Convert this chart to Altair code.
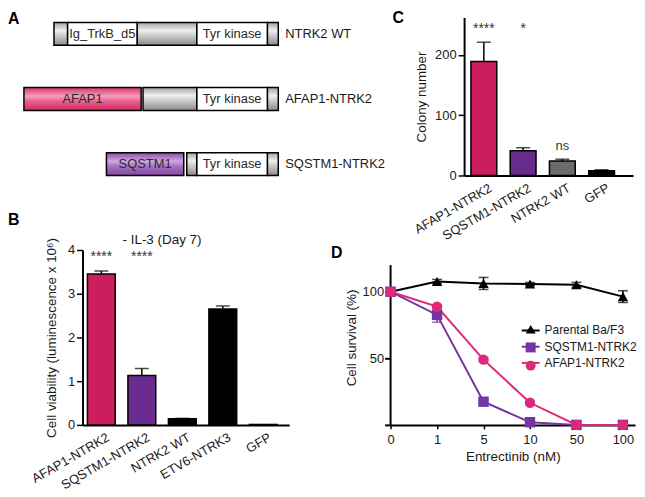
import altair as alt
import pandas as pd

FONT = "Liberation Sans"
INK = "#1a1a1a"

# ---------------- data ----------------
panel_letters = ["A", "B", "C", "D"]

# Panel A: domain architecture (positions aligned to NTRK2 WT residue numbering)
a_constructs = ["NTRK2 WT", "AFAP1-NTRK2", "SQSTM1-NTRK2"]
a_seg_construct = ["NTRK2 WT"] * 5 + ["AFAP1-NTRK2"] * 4 + ["SQSTM1-NTRK2"] * 4
a_seg_start = [1, 51, 305, 524, 782, -109, 327, 524, 782, 193, 487, 524, 782]
a_seg_end = [51, 305, 524, 782, 822, 320, 524, 782, 822, 476, 524, 782, 822]
a_seg_kind = ["linker", "domain", "linker", "domain", "linker",
              "AFAP1", "linker", "domain", "linker",
              "SQSTM1", "linker", "domain", "linker"]
a_seg_label = ["", "Ig_TrkB_d5", "", "Tyr kinase", "",
               "AFAP1", "", "Tyr kinase", "",
               "SQSTM1", "", "Tyr kinase", ""]

# Panel B
b_cats = ["AFAP1-NTRK2", "SQSTM1-NTRK2", "NTRK2 WT", "ETV6-NTRK3", "GFP"]
b_vals = [3.45, 1.13, 0.14, 2.65, 0.01]
b_err = [0.07, 0.16, 0.01, 0.07, 0.0]
b_sig = ["****", "****", "", "", ""]
b_colors = ["#cc1d5e", "#6a2b8e", "#000000", "#000000", "#000000"]

# Panel C
c_cats = ["AFAP1-NTRK2", "SQSTM1-NTRK2", "NTRK2 WT", "GFP"]
c_vals = [189, 41, 24, 8]
c_err = [32, 5, 3, 1.5]
c_sig = ["****", "*", "ns", ""]
c_colors = ["#cc1d5e", "#6a2b8e", "#6b6b6b", "#000000"]

# Panel D
d_doses = [0, 1, 5, 10, 50, 100]
d_series = ["Parental Ba/F3", "SQSTM1-NTRK2", "AFAP1-NTRK2"]
d_colors = ["#000000", "#7434a3", "#e0287a"]
d_shapes = ["triangle-up", "square", "circle"]
d_parental = [100, 107.7, 106.2, 105.7, 105.2, 96.3]
d_parental_err = [0, 1.5, 4.5, 1.2, 1.8, 4.4]
d_sqstm1 = [100, 82.6, 17.4, 2.0, 0, 0]
d_sqstm1_err = [0, 5.5, 1.5, 0.8, 0, 0]
d_afap1 = [100, 88.8, 49.0, 16.6, 0, 0]
d_afap1_err = [0, 1.5, 1.5, 1.0, 0, 0]
d_axis_top = [120]


def letter(ch, x, y):
    return alt.Chart(pd.DataFrame({"t": [ch]})).mark_text(
        align="left", baseline="top", fontSize=16, fontWeight="bold",
        font=FONT, color="black"
    ).encode(text="t:N", x=alt.value(x), y=alt.value(y))


def grad(stops):
    return {"gradient": "linear", "x1": 0, "x2": 0, "y1": 0, "y2": 1,
            "stops": [{"offset": o, "color": c} for o, c in stops]}


# ---------------- Panel A ----------------
a_df = pd.DataFrame({"construct": a_seg_construct, "start": a_seg_start,
                     "end": a_seg_end, "kind": a_seg_kind, "label": a_seg_label})
a_xscale = alt.Scale(domain=[105.5, 822], nice=False, zero=False)
a_y = alt.Y("construct:N", sort=a_constructs,
            scale=alt.Scale(paddingInner=0.649, paddingOuter=0.038, align=1), axis=None)
a_base = alt.Chart(a_df).encode(
    x=alt.X("start:Q", scale=a_xscale, axis=None), x2="end:Q", y=a_y)

gray_fill = grad([(0, "#a2a2a2"), (0.35, "#eeeeee"), (1, "#8a8a8a")])
pink_fill = grad([(0, "#d8346c"), (0.38, "#f49dbb"), (0.6, "#e9608d"), (1, "#cf2c63")])
purple_fill = grad([(0, "#8b4cad"), (0.38, "#cba8df"), (0.6, "#a572c2"), (1, "#86459f")])

a_layers = [
    a_base.transform_filter("datum.kind == 'linker'").mark_rect(
        fill=gray_fill, stroke="black", strokeWidth=1.5),
    a_base.transform_filter("datum.kind == 'domain'").mark_rect(
        fill="white", stroke="black", strokeWidth=1.5),
    a_base.transform_filter("datum.kind == 'AFAP1'").mark_rect(
        fill=pink_fill, stroke="black", strokeWidth=1.5),
    a_base.transform_filter("datum.kind == 'SQSTM1'").mark_rect(
        fill=purple_fill, stroke="black", strokeWidth=1.5),
    alt.Chart(a_df).transform_filter("datum.label != ''").transform_calculate(
        mid="(datum.start + datum.end) / 2"
    ).mark_text(fontSize=13, color="#2a2a2a", font=FONT).encode(
        x=alt.X("mid:Q", scale=a_xscale, axis=None), y=a_y, text="label:N"),
    alt.Chart(a_df).transform_aggregate(
        end="max(end)", groupby=["construct"]
    ).mark_text(align="left", dx=7, fontSize=13, color=INK, font=FONT).encode(
        x=alt.X("end:Q", scale=a_xscale, axis=None), y=a_y, text="construct:N"),
    letter(panel_letters[0], -75, -6.7),
]
panel_a = alt.layer(*a_layers).properties(width=197, height=159)


# ---------------- bar panel helper ----------------
def bar_panel(cats, vals, errs, sigs, colors, width, height, ydom, yvals, ytitle,
              pin, pout, palign, title_pad):
    df = pd.DataFrame({"cat": cats, "v": vals, "e": errs, "sig": sigs})
    df["hi"] = df["v"] + df["e"]
    x = alt.X("cat:N", sort=cats,
              scale=alt.Scale(paddingInner=pin, paddingOuter=pout, align=palign),
              axis=alt.Axis(title=None, labelAngle=-30, labelAlign="right",
                            labelBaseline="top", ticks=False, labelPadding=6,
                            labelOffset=4, domainWidth=2, labelFontSize=13))
    yscale = alt.Scale(domain=ydom, nice=False)
    yaxis = alt.Axis(values=yvals, tickSize=6, tickWidth=1.5, domainWidth=2,
                     labelPadding=2, titlePadding=title_pad, grid=False)

    def Y(field):
        return alt.Y(field, scale=yscale, axis=yaxis, title=ytitle)

    base = alt.Chart(df)
    bars = base.mark_bar(stroke="black", strokeWidth=1.5).encode(
        x=x, y=Y("v:Q"),
        color=alt.Color("cat:N", scale=alt.Scale(domain=cats, range=colors), legend=None))
    errb = base.transform_filter("datum.e > 0").mark_rule(
        color="black", strokeWidth=1.5).encode(x=x, y=Y("v:Q"), y2="hi:Q")
    caps = base.transform_filter("datum.e > 0").mark_tick(
        color="black", size=14, thickness=1.5).encode(x=x, y=Y("hi:Q"))
    return base, x, Y, [bars, errb, caps]


# ---------------- Panel B ----------------
b_base, b_x, b_Y, b_layers = bar_panel(
    b_cats, b_vals, b_err, b_sig, b_colors, 208, 176, [0, 4], [0, 1, 2, 3, 4],
    "Cell viability (luminescence x 10⁶)", 0.313, 0.209, 0.29, 9)
b_sigs = b_base.transform_filter("datum.sig != ''").mark_text(
    fontSize=14, baseline="alphabetic", color="#333333", font=FONT
).encode(x=b_x, y=alt.datum(3.75), text="sig:N")
b_title = alt.Chart(pd.DataFrame({"t": ["- IL-3 (Day 7)"]})).mark_text(
    fontSize=13.5, baseline="alphabetic", align="center", color=INK, font=FONT
).encode(text="t:N", x=alt.value(80), y=alt.value(-6))
panel_b = alt.layer(*b_layers, b_sigs, b_title, letter(panel_letters[1], -75, -38.5)
                    ).properties(width=208, height=176)

# ---------------- Panel C ----------------
c_base, c_x, c_Y, c_layers = bar_panel(
    c_cats, c_vals, c_err, c_sig, c_colors, 170, 159, [0, 262], [0, 100, 200],
    "Colony number", 0.342, 0.323, 0.27, 6)
c_top = c_base.transform_filter("datum.sig != '' && datum.sig != 'ns'").mark_text(
    fontSize=14, baseline="alphabetic", color="#333333", font=FONT
).encode(x=c_x, y=alt.datum(236), text="sig:N")
c_ns = c_base.transform_filter("datum.sig == 'ns'").transform_calculate(
    ny="datum.hi + 16").mark_text(
    fontSize=13, baseline="alphabetic", color="#333333", font=FONT
).encode(x=c_x, y=c_Y("ny:Q"), text="sig:N")
panel_c = alt.layer(*c_layers, c_top, c_ns, letter(panel_letters[2], -72, -7.9)
                    ).properties(width=170, height=159)

# ---------------- Panel D ----------------
rows = []
for s, vals, errs in zip(d_series, [d_parental, d_sqstm1, d_afap1],
                         [d_parental_err, d_sqstm1_err, d_afap1_err]):
    for dose, v, e in zip(d_doses, vals, errs):
        rows.append({"series": s, "series_pt": "pt_" + s, "dose": dose, "v": v,
                     "e": e, "lo": v - e, "hi": v + e})
d_df = pd.DataFrame(rows)
d_series_pt = ["pt_" + s for s in d_series]

d_x = alt.X("dose:O", scale=alt.Scale(type="point", padding=0.13, align=0),
            axis=alt.Axis(title="Entrectinib (nM)", labelAngle=0, tickSize=4,
                          tickWidth=1.5, domainWidth=2, labelPadding=5, titlePadding=3,
                          labelFontSize=13))
d_yscale = alt.Scale(domain=[0, 131.3], nice=False)
d_yaxis = alt.Axis(values=[0, 50, 100], labelExpr="datum.value == 0 ? '' : datum.label",
                   domain=False, tickSize=6, tickWidth=2, labelPadding=1,
                   titlePadding=4, grid=False)


def dY(field):
    return alt.Y(field, scale=d_yscale, axis=d_yaxis, title="Cell survival (%)")


d_axis_df = pd.DataFrame({"dose": [d_doses[0]], "lo": [0], "hi": d_axis_top})
d_layers = [
    alt.Chart(d_axis_df).mark_rule(color="black", strokeWidth=2).encode(
        x=d_x, y=dY("lo:Q"), y2="hi:Q")
]
for s, c in zip(d_series, d_colors):
    sub = alt.Chart(d_df).transform_filter(
        f"datum.series == '{s}' && datum.e > 0")
    d_layers.append(sub.mark_rule(color=c, strokeWidth=1.5).encode(
        x=d_x, y=dY("lo:Q"), y2="hi:Q"))
    d_layers.append(sub.mark_tick(color=c, size=10, thickness=1.5).encode(
        x=d_x, y=dY("hi:Q")))
    d_layers.append(sub.mark_tick(color=c, size=10, thickness=1.5).encode(
        x=d_x, y=dY("lo:Q")))

d_lines = alt.Chart(d_df).mark_line(strokeWidth=2).encode(
    x=d_x, y=dY("v:Q"),
    stroke=alt.Stroke("series:N", scale=alt.Scale(domain=d_series, range=d_colors),
                      legend=alt.Legend(orient="none", legendX=131, legendY=71,
                                        title=None, symbolType="stroke",
                                        symbolSize=324, symbolStrokeWidth=2,
                                        labelFontSize=12, labelFont=FONT,
                                        labelColor=INK, rowPadding=0.3, padding=0,
                                        labelOffset=4)))
pt_legend = alt.Legend(orient="none", legendX=135, legendY=73.75, title=None,
                       symbolSize=100, symbolOpacity=1, symbolStrokeWidth=0,
                       labelFontSize=12, labelExpr="''", rowPadding=6.3, padding=0,
                       labelOffset=0)
d_pts = alt.Chart(d_df).mark_point(filled=True, size=110, opacity=1).encode(
    x=d_x, y=dY("v:Q"),
    fill=alt.Fill("series_pt:N", scale=alt.Scale(domain=d_series_pt, range=d_colors),
                  legend=pt_legend),
    shape=alt.Shape("series_pt:N", scale=alt.Scale(domain=d_series_pt, range=d_shapes),
                    legend=pt_legend))
d_layers += [d_lines, d_pts, letter(panel_letters[3], -60, -5.2)]
panel_d = alt.layer(*d_layers).properties(width=246, height=176)

# ---------------- layout ----------------
RES = dict(color="independent", fill="independent", stroke="independent",
           shape="independent")
LEG = dict(fill="independent", stroke="independent", shape="independent",
           color="independent")
row1 = alt.hconcat(panel_a, panel_c, spacing=7).resolve_scale(**RES).resolve_legend(**LEG)
row2 = alt.hconcat(panel_b, panel_d, spacing=42).resolve_scale(**RES).resolve_legend(**LEG)
chart = alt.vconcat(row1, row2, spacing=-32).resolve_scale(**RES).resolve_legend(**LEG
).properties(padding=0
).configure(font=FONT).configure_view(stroke=None).configure_axis(
    labelFont=FONT, titleFont=FONT, labelFontSize=13, titleFontSize=13.5,
    labelColor=INK, titleColor=INK, titleFontWeight="normal",
    domainColor="black", tickColor="black", grid=False
).configure_legend(labelFont=FONT)

chart.save("out.html", embed_options={"renderer": "svg", "actions": False})
